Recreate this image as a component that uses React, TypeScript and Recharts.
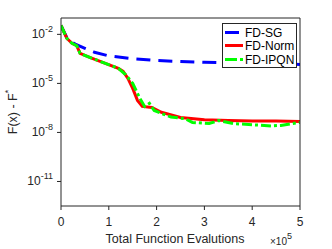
import React from "react";
import { LineChart, Line, XAxis, YAxis } from "recharts";

// x values in units of 1e5 function evaluations
const sgX = [0, 0.15, 0.3, 0.5, 0.7, 1.0, 1.5, 2.0, 2.5, 3.0, 3.5, 4.0, 4.5, 5.0];
const sgY = [3.5e-2, 4.3e-3, 2.5e-3, 1.4e-3, 8e-4, 4.8e-4, 3.2e-4, 2.5e-4, 2.2e-4, 1.95e-4, 1.8e-4, 1.65e-4, 1.6e-4, 1.45e-4];

const normX = [0, 0.12, 0.23, 0.33, 0.4, 0.6, 0.9, 1.2, 1.3, 1.4, 1.5, 1.6, 1.7, 1.9, 2.1, 2.5, 3.0, 3.5, 4.0, 4.5, 5.0];
const normY = [3.5e-2, 5.8e-3, 2.8e-3, 2.0e-3, 6.9e-4, 3.9e-4, 1.8e-4, 8.3e-5, 5.4e-5, 2.0e-5, 4.9e-6, 9.1e-7, 3.9e-7, 3.4e-7, 1.7e-7, 8.3e-8, 5.9e-8, 5.4e-8, 5.0e-8, 5.0e-8, 4.7e-8];

const ipqnX = [0, 0.12, 0.23, 0.33, 0.4, 0.6, 0.9, 1.2, 1.35, 1.5, 1.65, 1.75, 1.85, 1.95, 2.1, 2.3, 2.6, 2.75, 3.1, 3.3, 3.6, 4.4, 4.6, 5.0];
const ipqnY = [3.5e-2, 5.8e-3, 2.8e-3, 2.0e-3, 6.9e-4, 3.9e-4, 1.8e-4, 8.3e-5, 3.5e-5, 1.0e-5, 1.2e-6, 3.9e-7, 6.0e-7, 2.2e-7, 1.45e-7, 8.9e-8, 6.8e-8, 4.1e-8, 3.5e-8, 5.4e-8, 3.5e-8, 2.5e-8, 2.7e-8, 4.1e-8];

const xTicks = [0, 1, 2, 3, 4, 5];
const yTicks = [1e-2, 1e-5, 1e-8, 1e-11];
const yTickExp = ["-2", "-5", "-8", "-11"];
const seriesNames = ["FD-SG", "FD-Norm", "FD-IPQN"];

const sgData = sgX.map((x, i) => ({ x, y: sgY[i] }));
const normData = normX.map((x, i) => ({ x, y: normY[i] }));
const ipqnData = ipqnX.map((x, i) => ({ x, y: ipqnY[i] }));

const AX = "#262626";
const FONT = "'Liberation Sans', Arial, sans-serif";

const XTick = (props: any) => {
  const { x, y, payload } = props;
  return (
    <text x={x} y={y + 12} textAnchor="middle" fontSize={12} fill={AX} fontFamily={FONT}>
      {payload.value}
    </text>
  );
};

const YTick = (props: any) => {
  const { x, y, payload } = props;
  const idx = yTicks.findIndex((t) => Math.abs(Math.log10(t) - Math.log10(payload.value)) < 1e-6);
  const exp = idx >= 0 ? yTickExp[idx] : "";
  return (
    <text x={x} y={y + 4} textAnchor="end" fontSize={12} fill={AX} fontFamily={FONT}>
      <tspan>10</tspan>
      <tspan dy={-6} fontSize={9}>{exp}</tspan>
    </text>
  );
};

export default function App() {
  return (
    <div style={{ position: "absolute", left: 0, top: 0, width: 332, height: 249, background: "#fff" }}>
      <LineChart width={332} height={249} margin={{ top: 0, right: 0, bottom: 0, left: 0 }}>
        <XAxis
          xAxisId="b"
          dataKey="x"
          type="number"
          domain={[0, 5]}
          ticks={xTicks}
          height={43}
          tickSize={4}
          tickMargin={4}
          stroke={AX}
          tick={<XTick />}
          allowDataOverflow
        />
        <XAxis
          xAxisId="t"
          orientation="top"
          dataKey="x"
          type="number"
          domain={[0, 5]}
          ticks={xTicks}
          height={18}
          tickSize={4}
          tick={false}
          stroke={AX}
        />
        <YAxis
          yAxisId="l"
          dataKey="y"
          type="number"
          scale="log"
          domain={[Math.pow(10, -12.5), 0.1]}
          ticks={yTicks}
          width={61}
          tickSize={4}
          tickMargin={4}
          stroke={AX}
          tick={<YTick />}
          allowDataOverflow
        />
        <YAxis
          yAxisId="r"
          orientation="right"
          dataKey="y"
          type="number"
          scale="log"
          domain={[Math.pow(10, -12.5), 0.1]}
          ticks={yTicks}
          width={32}
          tickSize={4}
          tick={false}
          stroke={AX}
          allowDataOverflow
        />
        <Line xAxisId="b" yAxisId="l" data={sgData} dataKey="y" name={seriesNames[0]} stroke="#0000ff" strokeWidth={3} strokeDasharray="14 8" dot={false} isAnimationActive={false} />
        <Line xAxisId="b" yAxisId="l" data={normData} dataKey="y" name={seriesNames[1]} stroke="#ff0000" strokeWidth={3} dot={false} isAnimationActive={false} />
        <Line xAxisId="b" yAxisId="l" data={ipqnData} dataKey="y" name={seriesNames[2]} stroke="#00ff00" strokeWidth={3} strokeDasharray="10 3 3 3" dot={false} isAnimationActive={false} />
      </LineChart>
      <div style={{ position: "absolute", left: 0, top: 0, width: 332, height: 249, pointerEvents: "none" }}>
        <svg width={332} height={249}>
          <g transform="translate(222,23)">
            <rect x={0.5} y={0.5} width={74} height={44} fill="#fff" stroke={AX} strokeWidth={1} />
            <line x1={3} x2={21} y1={9.5} y2={9.5} stroke="#0000ff" strokeWidth={3} strokeDasharray="14 8" />
            <line x1={3} x2={21} y1={22.5} y2={22.5} stroke="#ff0000" strokeWidth={3} />
            <line x1={3} x2={21} y1={36.5} y2={36.5} stroke="#00ff00" strokeWidth={3} strokeDasharray="12 3 3 3" />
            {seriesNames.map((n, i) => (
              <text key={n} x={23} y={[14, 27, 41][i]} fontSize={12} fill="#000" fontFamily={FONT}>
                {n}
              </text>
            ))}
          </g>
          <text x={175} y={243} textAnchor="middle" fontSize={12.5} fill={AX} fontFamily={FONT}>
            Total Function Evalutions
          </text>
          <text x={270} y={245} fontSize={10} fill={AX} fontFamily={FONT}>
            ×10<tspan dy={-6} fontSize={9}>5</tspan>
          </text>
          <text transform="translate(17,112) rotate(-90)" textAnchor="middle" fontSize={12.5} fill={AX} fontFamily={FONT}>
            F(x) - F<tspan dy={-6} fontSize={9}>*</tspan>
          </text>
        </svg>
      </div>
    </div>
  );
}
